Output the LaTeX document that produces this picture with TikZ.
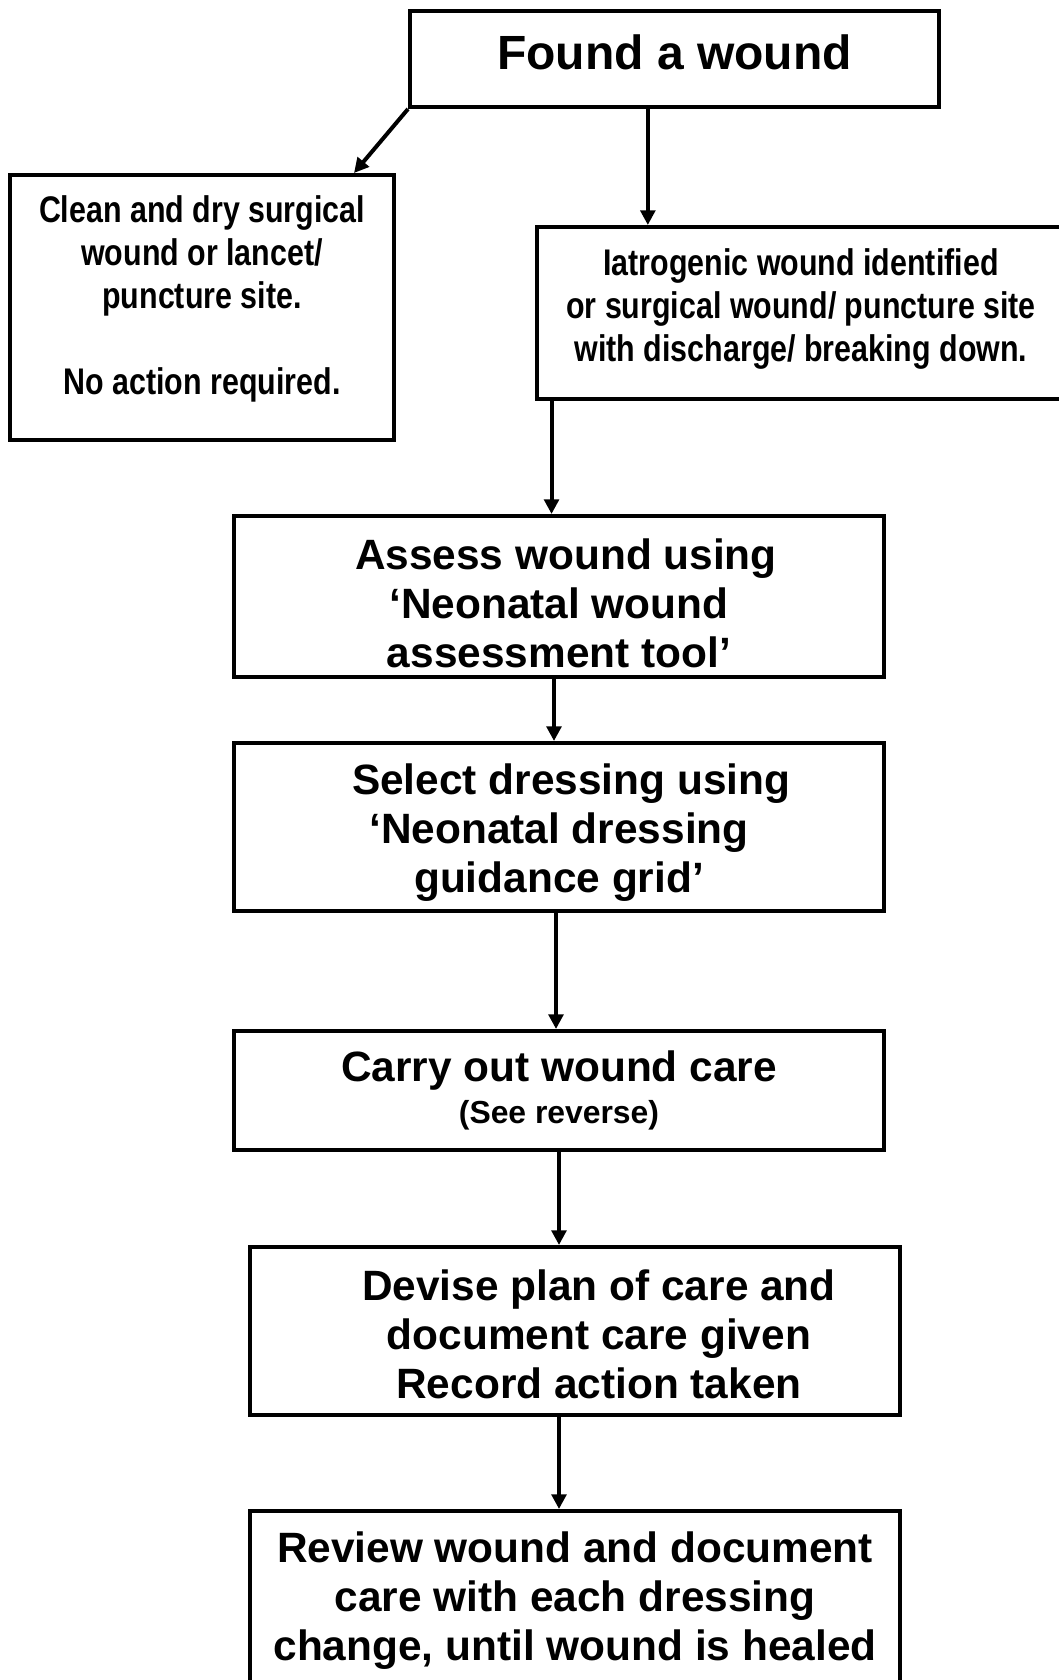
\documentclass[tikz,border=0pt]{standalone}
\usepackage{fontspec}
\setmainfont{Liberation Sans}
\newfontfamily\narrowfont[FakeStretch=0.82]{Liberation Sans}
\usetikzlibrary{arrows.meta}

\begin{document}
\begin{tikzpicture}[
   x=0.75pt,y=-0.75pt,
   box/.style={draw,line width=3pt,inner sep=0pt,align=center,
      font=\fontsize{31.8}{36.75}\selectfont\bfseries},
   narrowbox/.style={box,font=\narrowfont\fontsize{27.8}{32.2}\selectfont\bfseries},
   to/.style={-{Triangle[length=11pt,width=11pt]},line width=3pt}]
\useasboundingbox (0,0) rectangle (1058,1680);
\node[box,minimum width=396.75pt,minimum height=72pt,text depth=9.6pt,
   font=\fontsize{36}{42}\selectfont\bfseries] (found) at (674.5,59) {Found a wound};
\node[narrowbox,minimum width=288pt,minimum height=198.75pt] (clean) at (202,307.5)
   {Clean and dry surgical\\wound or lancet/\\puncture site.\\[32.2pt]No action required.\rule[-18.6pt]{0pt}{0pt}};
\node[narrowbox,minimum width=396pt,minimum height=129pt] (iatro) at (801,313)
   {Iatrogenic wound identified\\or surgical wound/ puncture site\\with discharge/ breaking down.\rule[-12.2pt]{0pt}{0pt}};
\node[box,minimum width=487.5pt,minimum height=120.75pt] (assess) at (559,596.5)
   {\rule{0pt}{32.8pt}\hspace*{10.4pt}Assess wound using\\‘Neonatal wound\\assessment tool’};
\node[box,minimum width=487.5pt,minimum height=126pt] (select) at (559,827)
   {\rule{0pt}{31.2pt}\hspace*{18.4pt}Select dressing using\\‘Neonatal dressing\hspace*{8.8pt}\\guidance grid’};
\node[box,minimum width=487.5pt,minimum height=89.25pt] (carry) at (559,1090.5)
   {Carry out wound care\\[-5pt]{\fontsize{23.9}{28}\selectfont(See reverse)}};
\node[box,minimum width=487.5pt,minimum height=126pt] (devise) at (575,1331)
   {\rule{0pt}{28pt}\hspace*{36pt}Devise plan of care and\\\hspace*{36pt}document care given\\\hspace*{36pt}Record action taken};
\node[box,minimum width=487.5pt,minimum height=134.25pt] (review) at (575,1600.5)
   {Review wound and document\\care with each dressing\\change, until wound is healed};
\draw[to] (found.south west) -- ([xshift=-31.5pt]clean.north east);
\draw[to] ([xshift=-20pt]found.south) -- ([xshift=-20pt]found.south |- iatro.north);
\draw[to] ([xshift=12.4pt]iatro.south west) -- ([xshift=12.4pt]iatro.south west |- assess.north);
\draw[to] ([xshift=-3.75pt]assess.south) -- ([xshift=-3.75pt]assess.south |- select.north);
\draw[to] ([xshift=-2.25pt]select.south) -- ([xshift=-2.25pt]select.south |- carry.north);
\draw[to] (carry.south) -- (carry.south |- devise.north);
\draw[to] ([xshift=-12pt]devise.south) -- ([xshift=-12pt]devise.south |- review.north);
\end{tikzpicture}
\end{document}
